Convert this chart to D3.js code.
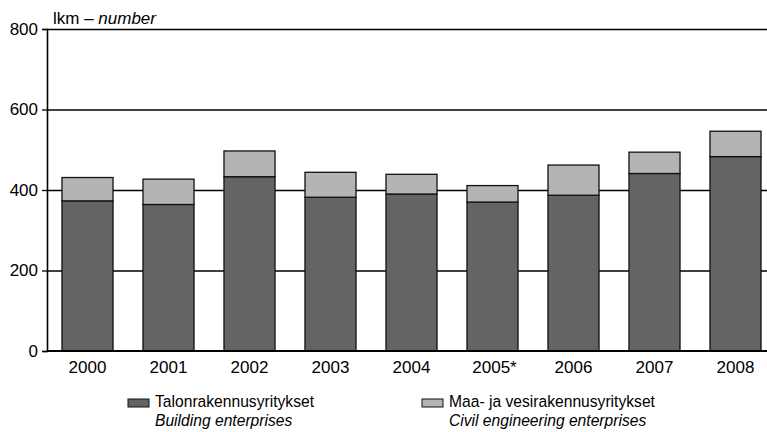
<!DOCTYPE html>
<html>
<head>
<meta charset="utf-8">
<script src="https://cdn.jsdelivr.net/npm/d3@7"></script>
<style>
  body { margin: 0; background: #fff; }
  svg text { font-family: "Liberation Sans", Arial, Helvetica, sans-serif; fill: #000; }
</style>
</head>
<body>
<svg id="chart" width="767" height="432"></svg>
<script>
// years on x axis
var years = ["2000", "2001", "2002", "2003", "2004", "2005*", "2006", "2007", "2008"];
// Talonrakennusyritykset / Building enterprises
var building = [373, 364, 433, 382, 390, 370, 387, 441, 483];
// Maa- ja vesirakennusyritykset / Civil engineering enterprises
var civil = [58, 63, 64, 62, 49, 41, 75, 53, 63];
var yTicks = [0, 200, 400, 600, 800];

var svg = d3.select("#chart");

var x = d3.scaleBand()
	.domain(years)
	.range([47, 776])
	.paddingInner(0.37)
	.paddingOuter(0.185);

var y = d3.scaleLinear()
	.domain([0, 800])
	.range([351, 29]);

// gridlines behind the bars
svg.append("g")
	.selectAll("line")
	.data(yTicks.filter(function(d) { return d > 0; }))
	.enter().append("line")
	.attr("x1", 47).attr("x2", 767)
	.attr("y1", function(d) { return y(d) + 0.5; })
	.attr("y2", function(d) { return y(d) + 0.5; })
	.attr("stroke", "#000")
	.attr("stroke-width", 1.4);

// stacked bars
var rows = years.map(function(yr, i) {
	return { year: yr, building: building[i], civil: civil[i] };
});
var stack = d3.stack().keys(["building", "civil"])(rows);
var fills = { building: "#646464", civil: "#b4b4b4" };

svg.append("g")
	.selectAll("g")
	.data(stack)
	.enter().append("g")
	.attr("fill", function(d) { return fills[d.key]; })
	.selectAll("rect")
	.data(function(d) { return d; })
	.enter().append("rect")
	.attr("x", function(d) { return x(d.data.year); })
	.attr("y", function(d) { return y(d[1]); })
	.attr("width", x.bandwidth())
	.attr("height", function(d) { return y(d[0]) - y(d[1]); })
	.attr("stroke", "#111")
	.attr("stroke-width", 1.3);

// left axis
var yAxis = svg.append("g")
	.attr("transform", "translate(47,0)")
	.call(d3.axisLeft(y).tickValues(yTicks).tickSize(5).tickPadding(4));
yAxis.select(".domain").attr("stroke", "#000").attr("stroke-width", 1.6);
yAxis.selectAll(".tick line").attr("stroke", "#000").attr("stroke-width", 1.3);
yAxis.selectAll(".tick text").style("font-size", "17px").attr("fill", "#000");

// baseline
svg.append("line")
	.attr("x1", 47).attr("x2", 767)
	.attr("y1", y(0)).attr("y2", y(0))
	.attr("stroke", "#000").attr("stroke-width", 2);

// year labels
svg.append("g")
	.selectAll("text")
	.data(years)
	.enter().append("text")
	.attr("x", function(d) { return x(d) + x.bandwidth() / 2 + (d === "2005*" ? 2 : 0); })
	.attr("y", 373)
	.attr("text-anchor", "middle")
	.style("font-size", "17px")
	.text(function(d) { return d; });

// unit title
var title = svg.append("text").attr("x", 53).attr("y", 24).style("font-size", "17px");
title.append("tspan").text("lkm – ");
title.append("tspan").style("font-style", "italic").text("number");

// legend (condensed type, as in the original)
var legend = [
	{ key: "building", fi: "Talonrakennusyritykset", en: "Building enterprises", x: 128 },
	{ key: "civil", fi: "Maa- ja vesirakennusyritykset", en: "Civil engineering enterprises", x: 422 }
];
var lg = svg.append("g").selectAll("g").data(legend).enter().append("g")
	.attr("transform", function(d) { return "translate(" + d.x + ",0)"; });
lg.append("rect")
	.attr("x", 0).attr("y", 399).attr("width", 21).attr("height", 8)
	.attr("fill", function(d) { return fills[d.key]; })
	.attr("stroke", "#111");
var lt = lg.append("g").attr("transform", "translate(27,0) scale(0.92,1)");
lt.append("text").attr("x", 0).attr("y", 407).style("font-size", "17px")
	.text(function(d) { return d.fi; });
lt.append("text").attr("x", 0).attr("y", 426).style("font-size", "17px").style("font-style", "italic")
	.text(function(d) { return d.en; });
</script>
</body>
</html>
